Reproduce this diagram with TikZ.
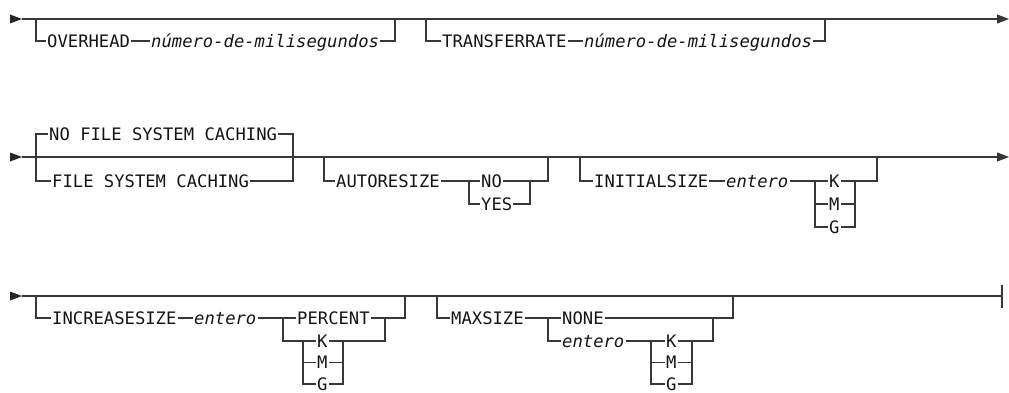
\documentclass[tikz,border=0pt]{standalone}
\usepackage{fontspec}
\newfontfamily\kwfont{DejaVu Sans Mono}
\usetikzlibrary{arrows.meta}
\begin{document}
\begin{tikzpicture}[x=1pt,y=-1pt,
  rail/.style={line width=1.15pt, draw=black!78},
  kw/.style={anchor=west, inner xsep=1pt, inner ysep=0pt, text height=12.5pt, text depth=0pt,
    font=\kwfont\fontsize{17.2}{20}\selectfont, text=black!92},
  var/.style={kw, font=\kwfont\itshape\fontsize{17.2}{20}\selectfont},
  endarrow/.style={-{Triangle[length=12pt,width=9pt]}},
  startmark/.style={fill=black!85},
]
\useasboundingbox (0,0) rectangle (1009,393);

% ---------------- Row 1 ----------------
\coordinate (s1) at (22,19);
\coordinate (e1) at (1009,19);
\coordinate (b1l) at (36,19);
\coordinate (b1r) at (395,19);
\coordinate (b2l) at (426,19);
\coordinate (b2r) at (825,19);
\node[kw]  (ovh)  at (46,41)  {OVERHEAD};
\node[var] (nms1) at (150,41) {número-de-milisegundos};
\node[kw]  (tr)   at (441,41) {TRANSFERRATE};
\node[var] (nms2) at (583,41) {número-de-milisegundos};
\fill[startmark] (s1) -- ++(-12,-4.5) -- ++(0,9) -- cycle;
\draw[rail,endarrow] (s1) -- (e1);
\draw[rail] (b1l) |- (ovh.west);
\draw[rail] (ovh.east) -- (nms1.west);
\draw[rail] (nms1.east) -| (b1r);
\draw[rail] (b2l) |- (tr.west);
\draw[rail] (tr.east) -- (nms2.west);
\draw[rail] (nms2.east) -| (b2r);

% ---------------- Row 2 ----------------
\coordinate (s2) at (22,157);
\coordinate (e2) at (1009,157);
\fill[startmark] (s2) -- ++(-12,-4.5) -- ++(0,9) -- cycle;
\draw[rail,endarrow] (s2) -- (e2);
% caching choice
\coordinate (c1lb) at (36,181);
\coordinate (c1rb) at (293,181);
\node[kw] (nofsc) at (48,134) {NO FILE SYSTEM CACHING};
\node[kw] (fsc)   at (51,181) {FILE SYSTEM CACHING};
\draw[rail] (nofsc.west) -| (c1lb) -- (fsc.west);
\draw[rail] (nofsc.east) -| (c1rb) -- (fsc.east);
% autoresize
\coordinate (a1) at (324,157);
\coordinate (aj) at (469,204);
\coordinate (ajr) at (530,181);
\coordinate (a2) at (548,157);
\node[kw] (aut) at (335,181) {AUTORESIZE};
\node[kw] (no)  at (480,181) {NO};
\node[kw] (yes) at (480,204) {YES};
\draw[rail] (a1) |- (aut.west);
\draw[rail] (aut.east) -- (no.west);
\draw[rail] (aj |- no.west) -- (aj) -- (yes.west);
\draw[rail] (no.east) -| (a2);
\draw[rail] (yes.east) -| (ajr);
% initialsize
\coordinate (i1) at (580,157);
\coordinate (i2) at (877,157);
\coordinate (k1l) at (815,227);
\coordinate (k1r) at (855,227);
\node[kw]  (ini)  at (593,181) {INITIALSIZE};
\node[var] (ent1) at (725,181) {entero};
\node[kw]  (k1)   at (828,181) {K};
\node[kw]  (m1)   at (828,204) {M};
\node[kw]  (g1)   at (828,227) {G};
\draw[rail] (i1) |- (ini.west);
\draw[rail] (ini.east) -- (ent1.west);
\draw[rail] (ent1.east) -- (k1.west);
\draw[rail] (k1l |- k1.west) -- (k1l) -- (g1.west);
\draw[rail] (k1l |- m1.west) -- (m1.west);
\draw[rail] (k1.east) -| (i2);
\draw[rail] (k1r |- k1.east) -- (k1r) -- (g1.east);
\draw[rail] (m1.east) -- (k1r |- m1.east);

% ---------------- Row 3 ----------------
\coordinate (s3) at (22,296);
\coordinate (e3) at (1002,296);
\fill[startmark] (s3) -- ++(-12,-4.5) -- ++(0,9) -- cycle;
\draw[rail] (s3) -- (e3);
\draw[rail,line width=1.5pt] (e3) ++(0,-11) -- ++(0,23);
% increasesize
\coordinate (n1) at (36,296);
\coordinate (n2) at (405,296);
\coordinate (p1) at (283,341);
\coordinate (p2) at (385,341);
\coordinate (q1) at (303,384);
\coordinate (q2) at (343,384);
\node[kw]  (inc)  at (51,318)  {INCREASESIZE};
\node[var] (ent2) at (193,318) {entero};
\node[kw]  (pct)  at (296,318) {PERCENT};
\node[kw]  (k2)   at (316,341) {K};
\node[kw]  (m2)   at (316,362.5) {M};
\node[kw]  (g2)   at (316,384) {G};
\draw[rail] (n1) |- (inc.west);
\draw[rail] (inc.east) -- (ent2.west);
\draw[rail] (ent2.east) -- (pct.west);
\draw[rail] (p1 |- pct.west) -- (p1) -- (k2.west);
\draw[rail] (q1 |- k2.west) -- (q1) -- (g2.west);
\draw[rail] (q1 |- m2.west) -- (m2.west);
\draw[rail] (k2.east) -- (p2) -- (p2 |- pct.east);
\draw[rail] (pct.east) -| (n2);
\draw[rail] (q2 |- k2.east) -- (q2) -- (g2.east);
\draw[rail] (m2.east) -- (q2 |- m2.east);
% maxsize
\coordinate (x1) at (437,296);
\coordinate (x2) at (733,296);
\coordinate (y1) at (548,341);
\coordinate (y2) at (713,318);
\coordinate (z1) at (651,384);
\coordinate (z2) at (692,384);
\node[kw]  (mx)   at (450,318) {MAXSIZE};
\node[kw]  (none) at (561,318) {NONE};
\node[var] (ent3) at (561,341) {entero};
\node[kw]  (k3)   at (665,341) {K};
\node[kw]  (m3)   at (665,362.5) {M};
\node[kw]  (g3)   at (665,384) {G};
\draw[rail] (x1) |- (mx.west);
\draw[rail] (mx.east) -- (none.west);
\draw[rail] (y1 |- none.west) -- (y1) -- (ent3.west);
\draw[rail] (ent3.east) -- (k3.west);
\draw[rail] (z1 |- k3.west) -- (z1) -- (g3.west);
\draw[rail] (z1 |- m3.west) -- (m3.west);
\draw[rail] (k3.east) -| (y2);
\draw[rail] (none.east) -| (x2);
\draw[rail] (z2 |- k3.east) -- (z2) -- (g3.east);
\draw[rail] (m3.east) -- (z2 |- m3.east);
\end{tikzpicture}
\end{document}
